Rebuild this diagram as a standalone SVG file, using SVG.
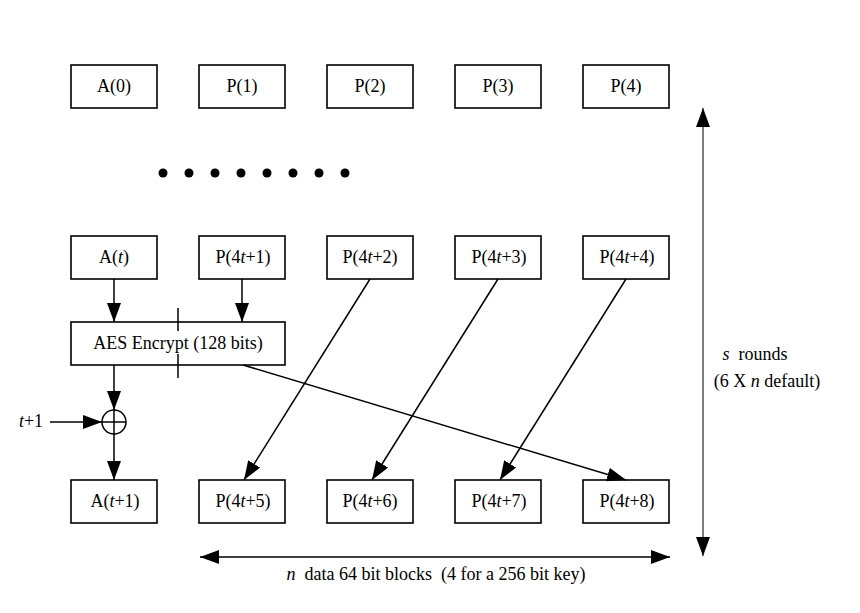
<svg xmlns="http://www.w3.org/2000/svg" width="860" height="613" viewBox="0 0 860 613">
<style>
.box{fill:#fff;stroke:#000;stroke-width:1.6}
.t{font-family:"Liberation Serif","Times New Roman",serif;font-size:18px;fill:#000;text-anchor:middle;white-space:pre}
.c{stroke:#000;stroke-width:1.5;fill:none}
.g{stroke:#555;stroke-width:1.5;fill:none}
</style>
<defs>
<marker id="ah" markerUnits="userSpaceOnUse" markerWidth="19" markerHeight="14" refX="19" refY="7" orient="auto">
<path d="M0,0 L19,7 L0,14 z" fill="#000"/>
</marker>
<marker id="ahs" markerUnits="userSpaceOnUse" markerWidth="19" markerHeight="14" refX="0" refY="7" orient="auto">
<path d="M19,0 L0,7 L19,14 z" fill="#000"/>
</marker>
</defs>
<rect width="860" height="613" fill="#fff"/>

<g id="row0">
<g id="A0"><rect class="box" x="71" y="65" width="86" height="43"/><text class="t" x="114" y="92">A(0)</text></g>
<g id="P1"><rect class="box" x="199" y="65" width="86" height="43"/><text class="t" x="242" y="92">P(1)</text></g>
<g id="P2"><rect class="box" x="327" y="65" width="86" height="43"/><text class="t" x="370" y="92">P(2)</text></g>
<g id="P3"><rect class="box" x="455" y="65" width="86" height="43"/><text class="t" x="498" y="92">P(3)</text></g>
<g id="P4"><rect class="box" x="583" y="65" width="86" height="43"/><text class="t" x="626" y="92">P(4)</text></g>
</g>

<g id="dots" fill="#000">
<circle cx="163" cy="173" r="4.5"/><circle cx="189" cy="173" r="4.5"/><circle cx="215" cy="173" r="4.5"/><circle cx="241" cy="173" r="4.5"/>
<circle cx="267" cy="173" r="4.5"/><circle cx="293" cy="173" r="4.5"/><circle cx="319" cy="173" r="4.5"/><circle cx="345" cy="173" r="4.5"/>
</g>

<g id="rowt">
<g id="At"><rect class="box" x="71" y="236" width="86" height="43"/><text class="t" x="114" y="263">A(<tspan font-style="italic">t</tspan>)</text></g>
<g id="P4t1"><rect class="box" x="199" y="236" width="86" height="43"/><text class="t" x="243" y="263">P(4<tspan font-style="italic">t</tspan>+1)</text></g>
<g id="P4t2"><rect class="box" x="327" y="236" width="86" height="43"/><text class="t" x="370" y="263">P(4<tspan font-style="italic">t</tspan>+2)</text></g>
<g id="P4t3"><rect class="box" x="455" y="236" width="86" height="43"/><text class="t" x="499" y="263">P(4<tspan font-style="italic">t</tspan>+3)</text></g>
<g id="P4t4"><rect class="box" x="583" y="236" width="86" height="43"/><text class="t" x="627" y="263">P(4<tspan font-style="italic">t</tspan>+4)</text></g>
</g>

<g id="aes">
<rect class="box" x="71" y="322" width="214" height="43"/>
<line class="c" x1="178" y1="308" x2="178" y2="331"/>
<line class="c" x1="178" y1="354" x2="178" y2="378"/>
<text class="t" x="178" y="349">AES Encrypt (128 bits)</text>
</g>

<g id="xor">
<circle cx="114" cy="422" r="12" fill="#fff" stroke="#000" stroke-width="1.5"/>
<line class="c" x1="102" y1="422" x2="126" y2="422"/>
<line class="c" x1="114" y1="410" x2="114" y2="434"/>
</g>

<g id="tplus1"><text class="t" x="31" y="427"><tspan font-style="italic">t</tspan>+1</text></g>

<g id="rowt1">
<g id="At1"><rect class="box" x="71" y="480" width="86" height="43"/><text class="t" x="115" y="507">A(<tspan font-style="italic">t</tspan>+1)</text></g>
<g id="P4t5"><rect class="box" x="199" y="480" width="86" height="43"/><text class="t" x="243" y="507">P(4<tspan font-style="italic">t</tspan>+5)</text></g>
<g id="P4t6"><rect class="box" x="327" y="480" width="86" height="43"/><text class="t" x="370" y="507">P(4<tspan font-style="italic">t</tspan>+6)</text></g>
<g id="P4t7"><rect class="box" x="455" y="480" width="86" height="43"/><text class="t" x="499" y="507">P(4<tspan font-style="italic">t</tspan>+7)</text></g>
<g id="P4t8"><rect class="box" x="583" y="480" width="86" height="43"/><text class="t" x="627" y="507">P(4<tspan font-style="italic">t</tspan>+8)</text></g>
</g>

<g id="connectors">
<line class="c" x1="114" y1="279" x2="114" y2="322" marker-end="url(#ah)"/>
<line class="c" x1="242" y1="279" x2="242" y2="322" marker-end="url(#ah)"/>
<line class="c" x1="114" y1="365" x2="114" y2="410" marker-end="url(#ah)"/>
<line class="c" x1="114" y1="434" x2="114" y2="480" marker-end="url(#ah)"/>
<line class="c" x1="50" y1="422" x2="102" y2="422" marker-end="url(#ah)"/>
<line class="c" x1="370" y1="279" x2="244" y2="480" marker-end="url(#ah)"/>
<line class="c" x1="498" y1="279" x2="372" y2="480" marker-end="url(#ah)"/>
<line class="c" x1="626" y1="279" x2="500" y2="480" marker-end="url(#ah)"/>
<line class="c" x1="243" y1="365" x2="626" y2="480" marker-end="url(#ah)"/>
<line class="g" x1="703" y1="108" x2="703" y2="556" marker-start="url(#ahs)" marker-end="url(#ah)"/>
<line class="c" x1="200" y1="557" x2="670" y2="557" marker-start="url(#ahs)" marker-end="url(#ah)"/>
</g>

<g id="labels">
<text class="t" x="755" y="360"><tspan font-style="italic">s</tspan>  rounds</text>
<text class="t" x="767" y="387">(6 X <tspan font-style="italic">n</tspan> default)</text>
<text class="t" x="436" y="580"><tspan font-style="italic">n</tspan>  data 64 bit blocks  (4 for a 256 bit key)</text>
</g>
</svg>
